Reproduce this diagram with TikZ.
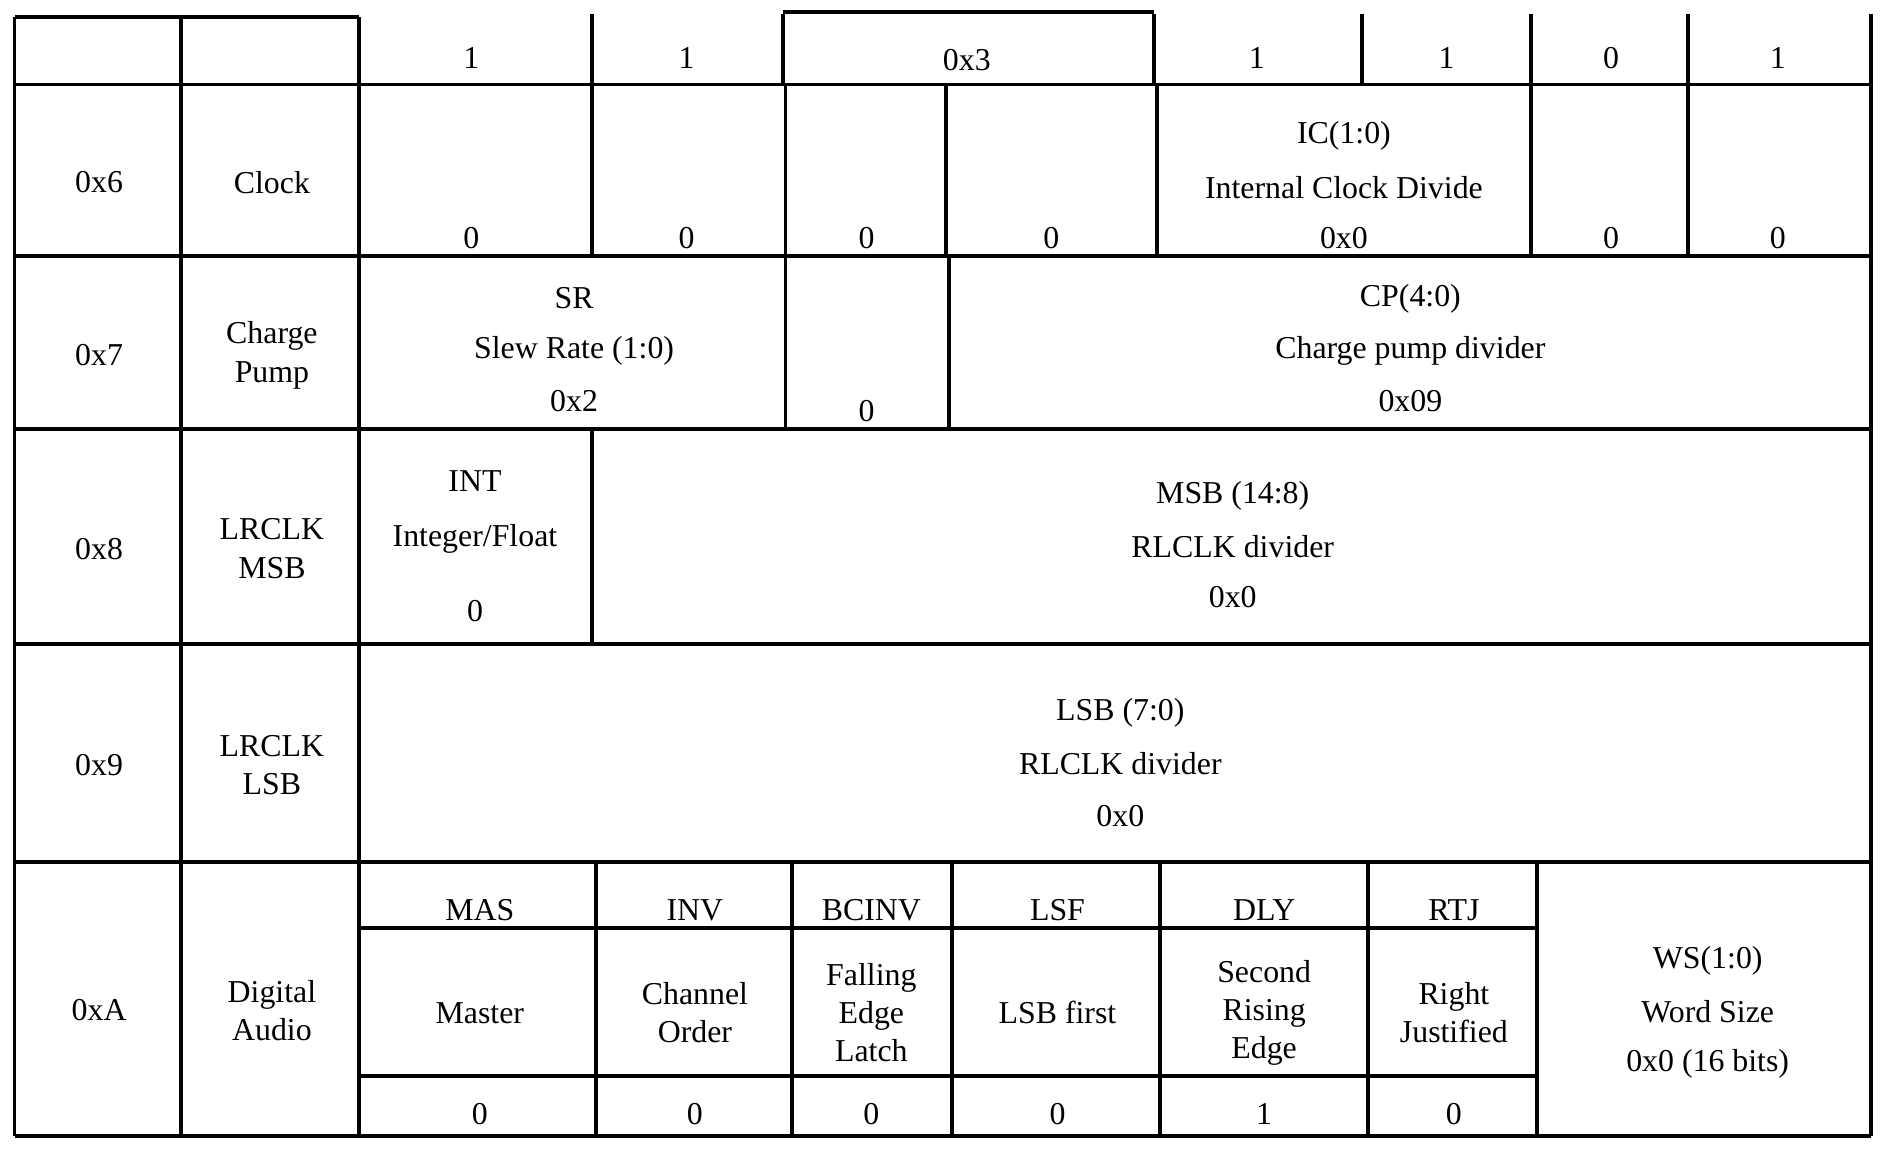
\documentclass[tikz,border=0pt]{standalone}
\usepackage{fontspec}
\setmainfont{Liberation Serif}
\usetikzlibrary{positioning}
\begin{document}
\begin{tikzpicture}[x=0.02cm,y=-0.02cm,line width=1.8pt,
  every node/.style={font=\fontsize{15}{18}\selectfont},
  cell/.style={align=center}]
\useasboundingbox (0,0) rectangle (1568,955);
% outer frame and row lines
\draw (12,70) -- (1548,70);
\foreach \y in {212,355,533,713,940} \draw (12,\y) -- (1548,\y);
\draw (12,14) -- (297,14) (648,10) -- (955,10);
\draw (12,14) -- (12,940) (150,14) -- (150,940) (297,14) -- (297,940) (1548,12) -- (1548,940);
% header columns
\foreach \x in {490,648,955,1127,1267,1397} \draw (\x,12) -- (\x,70);
% row 0x6
\foreach \x in {490,650,783,957,1267,1397} \draw (\x,70) -- (\x,212);
% row 0x7
\foreach \x in {650,785} \draw (\x,212) -- (\x,355);
% row 0x8
\draw (490,355) -- (490,533);
% row 0xA
\foreach \x in {493,655,788,960,1132,1272} \draw (\x,713) -- (\x,940);
\draw (297,768) -- (1272,768) (297,890) -- (1272,890);
% header
\node (h1) at (390,48) {1};
\node (h2) at (568,48) {1};
\node (h3) at (800,50) {0x3};
\node (h4) at (1040,48) {1};
\node (h5) at (1197,48) {1};
\node (h6) at (1333,48) {0};
\node (h7) at (1471,48) {1};
% left columns
\foreach \y/\a/\n in {141/0x6/Clock,284/0x7/{Charge\\Pump},444/0x8/{LRCLK\\MSB},623/0x9/{LRCLK\\LSB},826/0xA/{Digital\\Audio}}{
  \node[cell] at (82,\y+10) {\a};
  \node[cell] at (225,\y+10) {\n};
}
% 0x6
\foreach \x in {390,568,717,870,1333,1471} \node at (\x,197) {0};
\node (ic) at (1112,112) {IC(1:0)};
\node (icd) at (1112,155) {Internal Clock Divide};
\node (icv) at (1112,197) {0x0};
% 0x7
\node (sr) at (475,247) {SR};
\node (srd) at (475,290) {Slew Rate (1:0)};
\node (srv) at (475,332) {0x2};
\node (b5) at (717,340) {0};
\node (cp) at (1167,247) {CP(4:0)};
\node (cpd) at (1167,290) {Charge pump divider};
\node (cpv) at (1167,332) {0x09};
% 0x8
\node (int) at (393,398) {INT};
\node (intd) at (393,446) {Integer/Float};
\node (intv) at (393,506) {0};
\node (msb) at (1020,410) {MSB (14:8)};
\node (msbd) at (1020,452) {RLCLK divider};
\node (msbv) at (1020,494) {0x0};
% 0x9
\node (lsb) at (927,590) {LSB (7:0)};
\node (lsbd) at (927,632) {RLCLK divider};
\node (lsbv) at (927,675) {0x0};
% 0xA
\foreach \x/\t/\d/\v in {397/MAS/Master/0,575/INV/{Channel\\Order}/0,721/BCINV/{Falling\\Edge\\Latch}/0,875/LSF/{LSB first}/0,1046/DLY/{Second\\Rising\\Edge}/1,1203/RTJ/{Right\\Justified}/0}{
  \node at (\x,753) {\t};
  \node[cell] at (\x,838) {\d};
  \node at (\x,922) {\v};
}
\node (ws) at (1413,795) {WS(1:0)};
\node (wsd) at (1413,837) {Word Size};
\node (wsv) at (1413,880) {0x0 (16 bits)};
\end{tikzpicture}
\end{document}
